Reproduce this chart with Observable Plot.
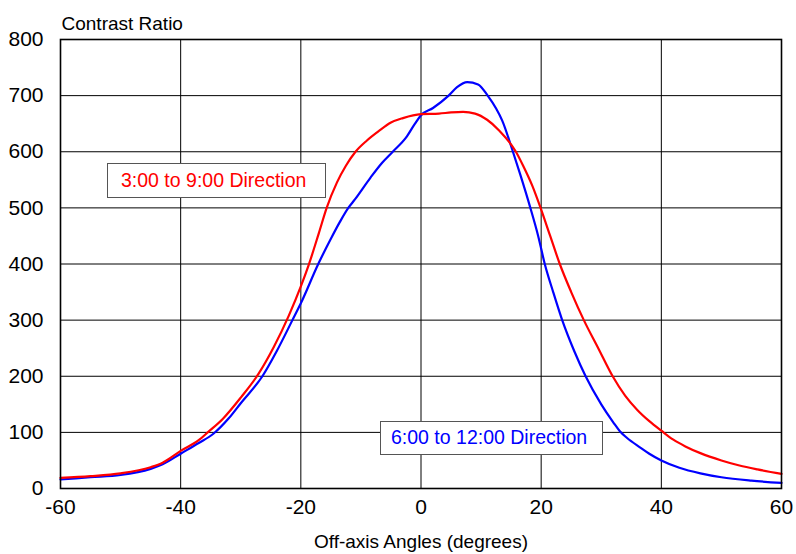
<!DOCTYPE html>
<html>
<head>
<meta charset="utf-8">
<script src="https://cdn.jsdelivr.net/npm/d3@7"></script>
<script src="https://cdn.jsdelivr.net/npm/@observablehq/plot@0.6"></script>
<style>
  html, body { margin: 0; padding: 0; background: #fff; }
  #wrap { position: relative; width: 796px; height: 554px; font-family: "Liberation Sans", Arial, sans-serif; }
  .legend { position: absolute; background: #fff; border: 1.5px solid #555; box-sizing: border-box;
            font-size: 19.5px; line-height: 1; display: flex; align-items: center; white-space: nowrap; }
</style>
</head>
<body>
<div id="wrap"></div>
<script>
// Off-axis angle (degrees) and contrast ratio
const redAngles = [-60,-55,-50,-45,-43,-40,-37,-35.4,-33,-30,-27,-24.5,-22,-20,-18.7,-17,-15.7,-14,-12.5,-10.9,-9,-7,-5,-3,0,3,5,7,9,11,13,15.8,17,18.5,19.9,21.5,23.1,25,27.1,29.5,31.9,34,36,38,40,42,44,46.5,50,53,56,60];
const redValues = [19,22,27,38,46,67,86,101,124,162,205,252,308,360,398,455,500,545,575,600,620,637,652,660,667,668,670,671,668,657,638,600,575,540,500,450,400,350,300,250,200,165,140,120,103,87,75,63,50,41,34,26];
const blueAngles = [-60,-55,-50,-45,-43,-40,-37,-34.5,-32,-30,-26.4,-24,-21.4,-20,-17.1,-15,-13.5,-12.1,-11,-8.4,-6.5,-4.7,-2.5,-1,0,2,4.6,6,7.7,9.5,11.1,12.5,13.5,15.3,16.5,18.2,19.5,20.6,22,23.5,25.5,27.4,30,32,33.1,34.3,36.5,38,40,43,46.5,50,55,60];
const blueValues = [16,20,24,35,43,62,81,98,125,152,200,245,300,330,400,445,475,500,515,554,580,600,625,650,665,678,700,715,724,720,700,677,656,600,560,500,450,400,350,300,245,200,150,118,102,90,73,62,50,37,27,20,14,10];
const xTicks = [-60,-40,-20,0,20,40,60];
const yTicks = [0,100,200,300,400,500,600,700,800];
const seriesNames = ["3:00 to 9:00 Direction", "6:00 to 12:00 Direction"];
const seriesColors = ["#ff0000", "#0000ff"];
const yTitle = "Contrast Ratio";
const xTitle = "Off-axis Angles (degrees)";

const red = redAngles.map((a, i) => ({angle: a, value: redValues[i], series: seriesNames[0]}));
const blue = blueAngles.map((a, i) => ({angle: a, value: blueValues[i], series: seriesNames[1]}));

const chart = Plot.plot({
  width: 796,
  height: 554,
  marginLeft: 60,
  marginRight: 15,
  marginTop: 39,
  marginBottom: 66,
  style: {fontFamily: "'Liberation Sans', Arial, sans-serif", background: "#fff", color: "#000"},
  x: {domain: [-60, 60], ticks: xTicks},
  y: {domain: [0, 800], ticks: yTicks},
  color: {domain: seriesNames, range: seriesColors},
  marks: [
    Plot.gridX(xTicks, {stroke: "#000", strokeOpacity: 1, strokeWidth: 1}),
    Plot.gridY(yTicks, {stroke: "#000", strokeOpacity: 1, strokeWidth: 1}),
    Plot.line(blue, {x: "angle", y: "value", stroke: "series", strokeWidth: 2.2, curve: "monotone-x"}),
    Plot.line(red, {x: "angle", y: "value", stroke: "series", strokeWidth: 2.2, curve: "monotone-x"}),
    Plot.frame({stroke: "#000", strokeWidth: 1.6}),
    Plot.axisY(yTicks, {tickSize: 0, tickPadding: 17, fontSize: 21, label: null, tickFormat: d => String(d)}),
    Plot.axisX(xTicks, {tickSize: 0, tickPadding: 11, fontSize: 21, label: null, tickFormat: d => String(d)}),
    Plot.text([yTitle], {frameAnchor: "top-left", textAnchor: "start", lineAnchor: "bottom", dx: 1, dy: -10, fontSize: 19}),
    Plot.text([xTitle], {frameAnchor: "bottom", lineAnchor: "middle", dy: 53, fontSize: 19})
  ]
});

const wrap = document.getElementById("wrap");
wrap.appendChild(chart);

// Legend labels as boxed annotations over the plot
const legendBoxes = [
  {name: seriesNames[0], color: seriesColors[0], style: "left:107px;top:163px;width:219px;height:35px;padding-left:13px;"},
  {name: seriesNames[1], color: seriesColors[1], style: "left:380px;top:421px;width:223px;height:34px;padding-left:10px;"}
];
for (const b of legendBoxes) {
  const d = document.createElement("div");
  d.className = "legend";
  d.setAttribute("style", b.style + "color:" + b.color + ";");
  d.textContent = b.name;
  wrap.appendChild(d);
}
</script>
</body>
</html>
